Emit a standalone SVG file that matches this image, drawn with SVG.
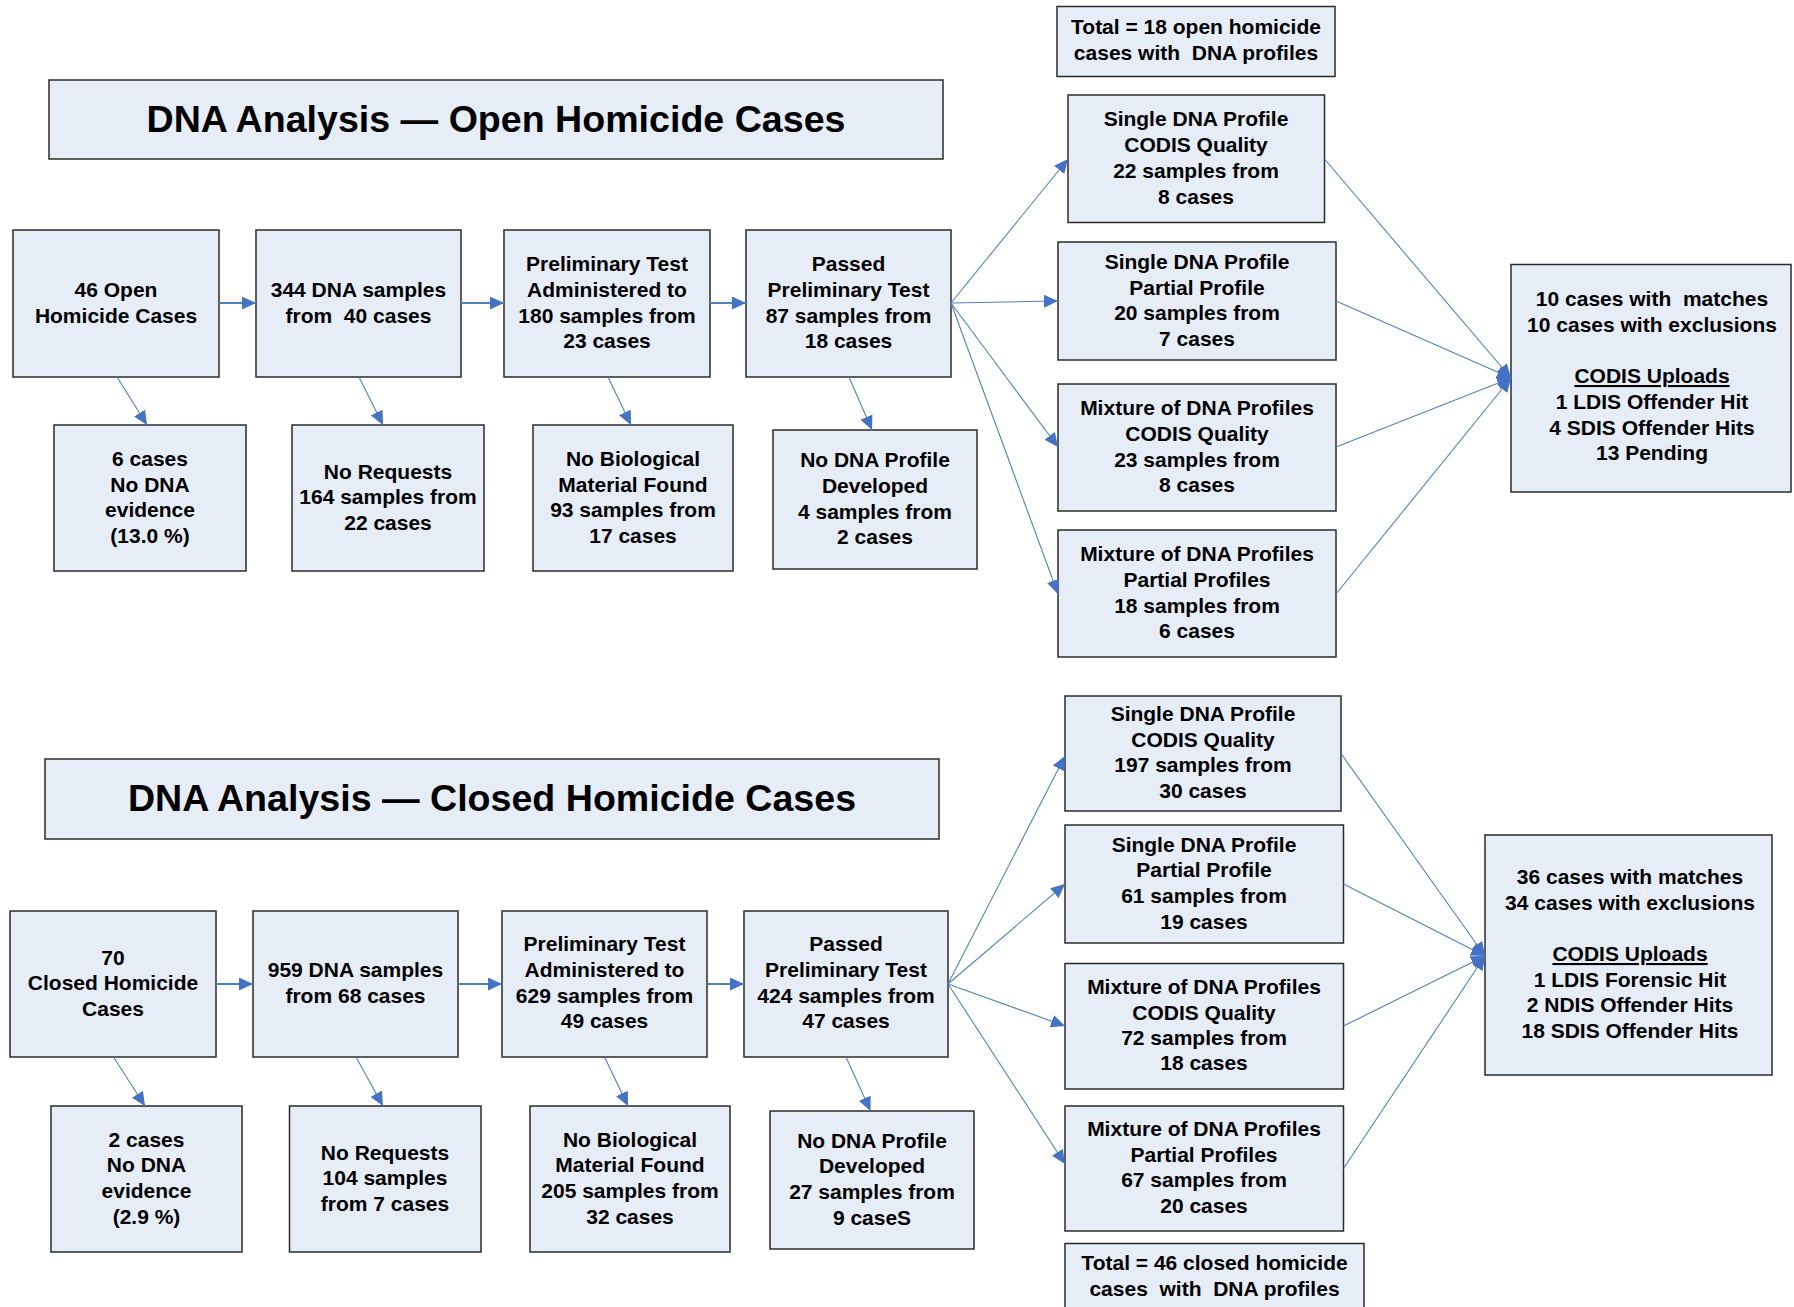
<svg xmlns="http://www.w3.org/2000/svg" width="1794" height="1307" viewBox="0 0 1794 1307">
  <style>
    .box { fill: #E7EDF7; stroke: #2b2b2b; stroke-width: 1.5; }
    .t { font-family: "Liberation Sans", Arial, sans-serif; font-weight: bold; font-size: 21px; fill: #000; text-anchor: middle; white-space: pre; transform: translate(0px, -1.5px); }
    .title { font-family: "Liberation Sans", Arial, sans-serif; font-weight: bold; font-size: 37.6px; fill: #000; text-anchor: middle; }
    .c { fill: none; stroke: #4F81BD; stroke-width: 1.1; marker-end: url(#arr); }
    .h { stroke-width: 1.8; }
  </style>
  <defs>
    <marker id="arr" markerUnits="userSpaceOnUse" markerWidth="14" markerHeight="13" refX="14" refY="6.5" orient="auto">
      <path d="M0,0 L14,6.5 L0,13 z" fill="#4472C4"/>
    </marker>
  </defs>
  <rect width="1794" height="1307" fill="#fff"/>

  <!-- ===== Open homicide cases ===== -->
  <g id="open-title">
    <rect class="box" x="49" y="80" width="894" height="79"/>
    <text class="title" x="496" y="131.5">DNA Analysis — Open Homicide Cases</text>
  </g>
  <g id="open-total">
    <rect class="box" x="1057" y="6.5" width="278" height="70"/>
    <text class="t" x="1196" y="35.5">Total = 18 open homicide</text>
    <text class="t" x="1196" y="61.5">cases with  DNA profiles</text>
  </g>
  <g id="open-cases">
    <rect class="box" x="13" y="230" width="206" height="147"/>
    <text class="t" x="116" y="298">46 Open</text>
    <text class="t" x="116" y="324">Homicide Cases</text>
  </g>
  <g id="open-samples">
    <rect class="box" x="256" y="230" width="205" height="147"/>
    <text class="t" x="358.5" y="298">344 DNA samples</text>
    <text class="t" x="358.5" y="324">from  40 cases</text>
  </g>
  <g id="open-prelim">
    <rect class="box" x="504" y="230" width="206" height="147"/>
    <text class="t" x="607" y="272.5">Preliminary Test</text>
    <text class="t" x="607" y="298">Administered to</text>
    <text class="t" x="607" y="324">180 samples from</text>
    <text class="t" x="607" y="349.5">23 cases</text>
  </g>
  <g id="open-passed">
    <rect class="box" x="746" y="230" width="205" height="147"/>
    <text class="t" x="848.5" y="272.5">Passed</text>
    <text class="t" x="848.5" y="298">Preliminary Test</text>
    <text class="t" x="848.5" y="324">87 samples from</text>
    <text class="t" x="848.5" y="349.5">18 cases</text>
  </g>
  <g id="open-no-evidence">
    <rect class="box" x="54" y="425" width="192" height="146"/>
    <text class="t" x="150" y="467">6 cases</text>
    <text class="t" x="150" y="493">No DNA</text>
    <text class="t" x="150" y="518.5">evidence</text>
    <text class="t" x="150" y="544">(13.0 %)</text>
  </g>
  <g id="open-no-requests">
    <rect class="box" x="292" y="425" width="192" height="146"/>
    <text class="t" x="388" y="480">No Requests</text>
    <text class="t" x="388" y="505.5">164 samples from</text>
    <text class="t" x="388" y="531">22 cases</text>
  </g>
  <g id="open-no-bio">
    <rect class="box" x="533" y="425" width="200" height="146"/>
    <text class="t" x="633" y="467">No Biological</text>
    <text class="t" x="633" y="493">Material Found</text>
    <text class="t" x="633" y="518.5">93 samples from</text>
    <text class="t" x="633" y="544">17 cases</text>
  </g>
  <g id="open-no-profile">
    <rect class="box" x="773" y="430" width="204" height="139"/>
    <text class="t" x="875" y="468.5">No DNA Profile</text>
    <text class="t" x="875" y="494">Developed</text>
    <text class="t" x="875" y="520">4 samples from</text>
    <text class="t" x="875" y="545.5">2 cases</text>
  </g>
  <g id="open-single-codis">
    <rect class="box" x="1068" y="95" width="256.5" height="127.5"/>
    <text class="t" x="1196" y="127">Single DNA Profile</text>
    <text class="t" x="1196" y="153">CODIS Quality</text>
    <text class="t" x="1196" y="179.5">22 samples from</text>
    <text class="t" x="1196" y="205">8 cases</text>
  </g>
  <g id="open-single-partial">
    <rect class="box" x="1058" y="242" width="278" height="118"/>
    <text class="t" x="1197" y="270">Single DNA Profile</text>
    <text class="t" x="1197" y="296">Partial Profile</text>
    <text class="t" x="1197" y="321.5">20 samples from</text>
    <text class="t" x="1197" y="347">7 cases</text>
  </g>
  <g id="open-mixture-codis">
    <rect class="box" x="1058" y="384" width="278" height="127"/>
    <text class="t" x="1197" y="416.5">Mixture of DNA Profiles</text>
    <text class="t" x="1197" y="442">CODIS Quality</text>
    <text class="t" x="1197" y="468">23 samples from</text>
    <text class="t" x="1197" y="493.5">8 cases</text>
  </g>
  <g id="open-mixture-partial">
    <rect class="box" x="1058" y="530" width="278" height="127"/>
    <text class="t" x="1197" y="562.5">Mixture of DNA Profiles</text>
    <text class="t" x="1197" y="588">Partial Profiles</text>
    <text class="t" x="1197" y="614">18 samples from</text>
    <text class="t" x="1197" y="639.5">6 cases</text>
  </g>
  <g id="open-results">
    <rect class="box" x="1511" y="264.5" width="280" height="227.5"/>
    <text class="t" x="1652" y="307.5">10 cases with  matches</text>
    <text class="t" x="1652" y="333">10 cases with exclusions</text>
    <text class="t" x="1652" y="384.5" text-decoration="underline">CODIS Uploads</text>
    <text class="t" x="1652" y="410">1 LDIS Offender Hit</text>
    <text class="t" x="1652" y="436">4 SDIS Offender Hits</text>
    <text class="t" x="1652" y="461.5">13 Pending</text>
  </g>

  <!-- ===== Closed homicide cases ===== -->
  <g id="closed-title">
    <rect class="box" x="45" y="759" width="894" height="80"/>
    <text class="title" x="492" y="811">DNA Analysis — Closed Homicide Cases</text>
  </g>
  <g id="closed-cases">
    <rect class="box" x="10" y="911" width="206" height="146"/>
    <text class="t" x="113" y="966">70</text>
    <text class="t" x="113" y="991.5">Closed Homicide</text>
    <text class="t" x="113" y="1017">Cases</text>
  </g>
  <g id="closed-samples">
    <rect class="box" x="253" y="911" width="205" height="146"/>
    <text class="t" x="355.5" y="978.5">959 DNA samples</text>
    <text class="t" x="355.5" y="1004">from 68 cases</text>
  </g>
  <g id="closed-prelim">
    <rect class="box" x="502" y="911" width="205" height="146"/>
    <text class="t" x="604.5" y="952.5">Preliminary Test</text>
    <text class="t" x="604.5" y="978.5">Administered to</text>
    <text class="t" x="604.5" y="1004">629 samples from</text>
    <text class="t" x="604.5" y="1029.5">49 cases</text>
  </g>
  <g id="closed-passed">
    <rect class="box" x="744" y="911" width="204" height="146"/>
    <text class="t" x="846" y="952.5">Passed</text>
    <text class="t" x="846" y="978.5">Preliminary Test</text>
    <text class="t" x="846" y="1004">424 samples from</text>
    <text class="t" x="846" y="1029.5">47 cases</text>
  </g>
  <g id="closed-no-evidence">
    <rect class="box" x="51" y="1106" width="191" height="146"/>
    <text class="t" x="146.5" y="1148">2 cases</text>
    <text class="t" x="146.5" y="1173.5">No DNA</text>
    <text class="t" x="146.5" y="1199">evidence</text>
    <text class="t" x="146.5" y="1225">(2.9 %)</text>
  </g>
  <g id="closed-no-requests">
    <rect class="box" x="289.5" y="1106" width="191.5" height="146"/>
    <text class="t" x="385" y="1161">No Requests</text>
    <text class="t" x="385" y="1186.5">104 samples</text>
    <text class="t" x="385" y="1212">from 7 cases</text>
  </g>
  <g id="closed-no-bio">
    <rect class="box" x="530" y="1106" width="200" height="146"/>
    <text class="t" x="630" y="1148">No Biological</text>
    <text class="t" x="630" y="1173.5">Material Found</text>
    <text class="t" x="630" y="1199">205 samples from</text>
    <text class="t" x="630" y="1225">32 cases</text>
  </g>
  <g id="closed-no-profile">
    <rect class="box" x="770" y="1111" width="204" height="138"/>
    <text class="t" x="872" y="1149">No DNA Profile</text>
    <text class="t" x="872" y="1174.5">Developed</text>
    <text class="t" x="872" y="1200">27 samples from</text>
    <text class="t" x="872" y="1226">9 caseS</text>
  </g>
  <g id="closed-single-codis">
    <rect class="box" x="1065" y="696" width="276" height="115"/>
    <text class="t" x="1203" y="722.5">Single DNA Profile</text>
    <text class="t" x="1203" y="748">CODIS Quality</text>
    <text class="t" x="1203" y="773.5">197 samples from</text>
    <text class="t" x="1203" y="799">30 cases</text>
  </g>
  <g id="closed-single-partial">
    <rect class="box" x="1065" y="825" width="278.5" height="118"/>
    <text class="t" x="1204" y="853">Single DNA Profile</text>
    <text class="t" x="1204" y="878.5">Partial Profile</text>
    <text class="t" x="1204" y="904">61 samples from</text>
    <text class="t" x="1204" y="930">19 cases</text>
  </g>
  <g id="closed-mixture-codis">
    <rect class="box" x="1065" y="963.5" width="278.5" height="125.5"/>
    <text class="t" x="1204" y="995.5">Mixture of DNA Profiles</text>
    <text class="t" x="1204" y="1021">CODIS Quality</text>
    <text class="t" x="1204" y="1046">72 samples from</text>
    <text class="t" x="1204" y="1071.5">18 cases</text>
  </g>
  <g id="closed-mixture-partial">
    <rect class="box" x="1065" y="1106" width="278.5" height="125"/>
    <text class="t" x="1204" y="1137.5">Mixture of DNA Profiles</text>
    <text class="t" x="1204" y="1163.5">Partial Profiles</text>
    <text class="t" x="1204" y="1188.5">67 samples from</text>
    <text class="t" x="1204" y="1214.5">20 cases</text>
  </g>
  <g id="closed-total">
    <rect class="box" x="1065" y="1243.5" width="299" height="80"/>
    <text class="t" x="1214.5" y="1271.5">Total = 46 closed homicide</text>
    <text class="t" x="1214.5" y="1297.5">cases  with  DNA profiles</text>
  </g>
  <g id="closed-results">
    <rect class="box" x="1485" y="835" width="287" height="240"/>
    <text class="t" x="1630" y="885.5">36 cases with matches</text>
    <text class="t" x="1630" y="911">34 cases with exclusions</text>
    <text class="t" x="1630" y="962.5" text-decoration="underline">CODIS Uploads</text>
    <text class="t" x="1630" y="988">1 LDIS Forensic Hit</text>
    <text class="t" x="1630" y="1013.5">2 NDIS Offender Hits</text>
    <text class="t" x="1630" y="1039">18 SDIS Offender Hits</text>
  </g>

  <!-- ===== Connectors ===== -->
  <g id="connectors">
    <!-- open: main flow -->
    <line class="c h" x1="219" y1="303" x2="256" y2="303"/>
    <line class="c h" x1="461" y1="303" x2="504" y2="303"/>
    <line class="c h" x1="710" y1="303" x2="746" y2="303"/>
    <!-- open: drop-outs -->
    <line class="c" x1="117" y1="377" x2="147" y2="425"/>
    <line class="c" x1="359" y1="377" x2="383" y2="425"/>
    <line class="c" x1="608" y1="377" x2="631" y2="425"/>
    <line class="c" x1="849" y1="377" x2="872" y2="430"/>
    <!-- open: profile types -->
    <line class="c" x1="951" y1="303" x2="1068" y2="159"/>
    <line class="c" x1="951" y1="303" x2="1058" y2="301"/>
    <line class="c" x1="951" y1="303" x2="1058" y2="447"/>
    <line class="c" x1="951" y1="303" x2="1058" y2="594"/>
    <!-- open: into results -->
    <line class="c" x1="1324.5" y1="159" x2="1511" y2="378"/>
    <line class="c" x1="1336" y1="301" x2="1511" y2="378"/>
    <line class="c" x1="1336" y1="447" x2="1511" y2="378"/>
    <line class="c" x1="1336" y1="594" x2="1511" y2="378"/>

    <!-- closed: main flow -->
    <line class="c h" x1="216" y1="984" x2="253" y2="984"/>
    <line class="c h" x1="458" y1="984" x2="502" y2="984"/>
    <line class="c h" x1="707" y1="984" x2="744" y2="984"/>
    <!-- closed: drop-outs -->
    <line class="c" x1="113.5" y1="1057" x2="145" y2="1106"/>
    <line class="c" x1="356" y1="1057" x2="383" y2="1106"/>
    <line class="c" x1="604.5" y1="1057" x2="628" y2="1106"/>
    <line class="c" x1="846" y1="1057" x2="870.5" y2="1111"/>
    <!-- closed: profile types -->
    <line class="c" x1="948" y1="984" x2="1065" y2="756"/>
    <line class="c" x1="948" y1="984" x2="1065" y2="884"/>
    <line class="c" x1="948" y1="984" x2="1065" y2="1026"/>
    <line class="c" x1="948" y1="984" x2="1065" y2="1164"/>
    <!-- closed: into results -->
    <line class="c" x1="1341" y1="753.5" x2="1485" y2="956"/>
    <line class="c" x1="1343.5" y1="884" x2="1485" y2="956"/>
    <line class="c" x1="1343.5" y1="1026" x2="1485" y2="956"/>
    <line class="c" x1="1343.5" y1="1168.5" x2="1485" y2="956"/>
  </g>
</svg>
